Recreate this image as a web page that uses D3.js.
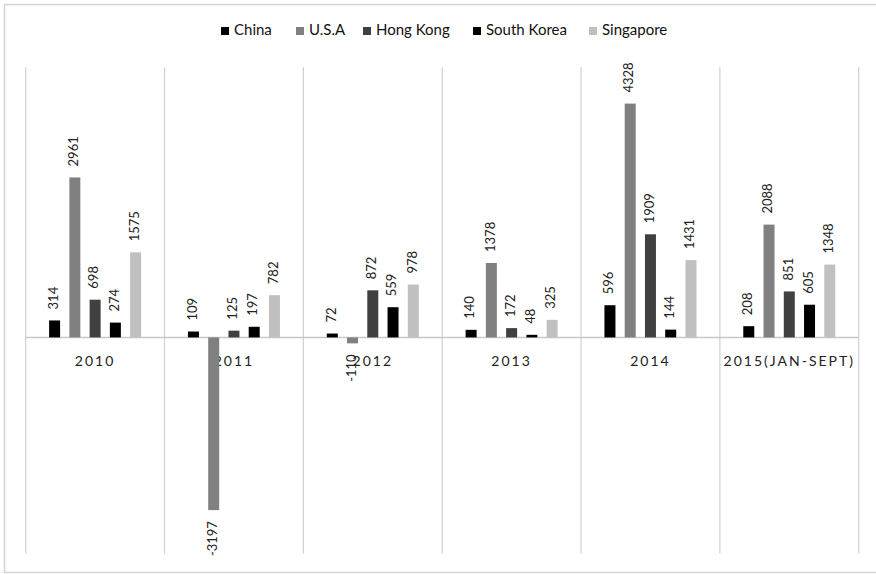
<!DOCTYPE html>
<html>
<head>
<meta charset="utf-8">
<script src="https://cdn.jsdelivr.net/npm/d3@7"></script>
<style>
  body { margin: 0; background: #fff; }
  svg { display: block; font-family: Lato, "Open Sans", sans-serif; }
</style>
</head>
<body>
<svg id="chart" width="876" height="574"></svg>
<script>
const categories = ["2010", "2011", "2012", "2013", "2014", "2015(JAN-SEPT)"];
const seriesNames = ["China", "U.S.A", "Hong Kong", "South Korea", "Singapore"];
const china = [314, 109, 72, 140, 596, 208];
const usa = [2961, -3197, -110, 1378, 4328, 2088];
const hongKong = [698, 125, 872, 172, 1909, 851];
const southKorea = [274, 197, 559, 48, 144, 605];
const singapore = [1575, 782, 978, 325, 1431, 1348];
const seriesValues = [china, usa, hongKong, southKorea, singapore];
const colors = ["#000000", "#808080", "#404040", "#000000", "#c0c0c0"];

const svg = d3.select("#chart");

// outer border
svg.append("rect").attr("x", 4.5).attr("y", 4.5).attr("width", 880).attr("height", 568)
  .attr("fill", "none").attr("stroke", "#d4d4d4").attr("stroke-width", 1.5);

const plot = { left: 25.7, right: 858.7, top: 67.3, bottom: 553.5 };

const x0 = d3.scaleBand().domain(categories).range([plot.left, plot.right]).padding(0);
const x1 = d3.scaleBand().domain(seriesNames).range([0, x0.bandwidth()])
  .paddingInner(0.457).paddingOuter(1.156);
const y = d3.scaleLinear().domain([-4000, 5000]).range([plot.bottom, plot.top]);

// vertical category separators
const bounds = categories.map(c => x0(c)).concat([plot.right]);
svg.append("g").selectAll("line").data(bounds).join("line")
  .attr("x1", d => d).attr("x2", d => d)
  .attr("y1", plot.top).attr("y2", plot.bottom)
  .attr("stroke", "#d0d0d0").attr("stroke-width", 1.2);

// zero line
svg.append("line").attr("x1", plot.left).attr("x2", plot.right)
  .attr("y1", y(0)).attr("y2", y(0))
  .attr("stroke", "#c8c8c8").attr("stroke-width", 1.5);

// category labels
svg.append("g").selectAll("text").data(categories).join("text")
  .attr("x", d => x0(d) + x0.bandwidth() / 2)
  .attr("y", y(0) + 25)
  .attr("text-anchor", "middle")
  .attr("dominant-baseline", "middle")
  .attr("font-size", 14)
  .attr("letter-spacing", 2)
  .attr("fill", "#222")
  .text(d => d);

// bars
const data = [];
categories.forEach((c, i) => {
  seriesNames.forEach((s, j) => {
    data.push({ cat: c, series: s, value: seriesValues[j][i], color: colors[j] });
  });
});

svg.append("g").selectAll("rect").data(data).join("rect")
  .attr("x", d => x0(d.cat) + x1(d.series))
  .attr("width", x1.bandwidth())
  .attr("y", d => y(Math.max(0, d.value)))
  .attr("height", d => Math.abs(y(d.value) - y(0)))
  .attr("fill", d => d.color);

// data labels
const gap = 11;
svg.append("g").selectAll("text").data(data).join("text")
  .attr("transform", d => {
    const cx = x0(d.cat) + x1(d.series) + x1.bandwidth() / 2;
    const cy = d.value >= 0 ? y(d.value) - gap : y(d.value) + gap;
    return `translate(${cx},${cy}) rotate(-90)`;
  })
  .attr("text-anchor", d => d.value >= 0 ? "start" : "end")
  .attr("dominant-baseline", "middle")
  .attr("font-size", 13)
  .attr("fill", "#222")
  .text(d => d.value);

// legend
const legendX = [221, 296, 363, 473, 589];
const lg = svg.append("g").selectAll("g").data(seriesNames).join("g")
  .attr("transform", (d, i) => `translate(${legendX[i]},31)`);
lg.append("rect").attr("x", 0).attr("y", -4).attr("width", 8).attr("height", 8)
  .attr("fill", (d, i) => colors[i]);
lg.append("text").attr("x", 13).attr("y", 0)
  .attr("dominant-baseline", "middle")
  .attr("font-size", 15)
  .attr("fill", "#111")
  .text(d => d);
</script>
</body>
</html>
